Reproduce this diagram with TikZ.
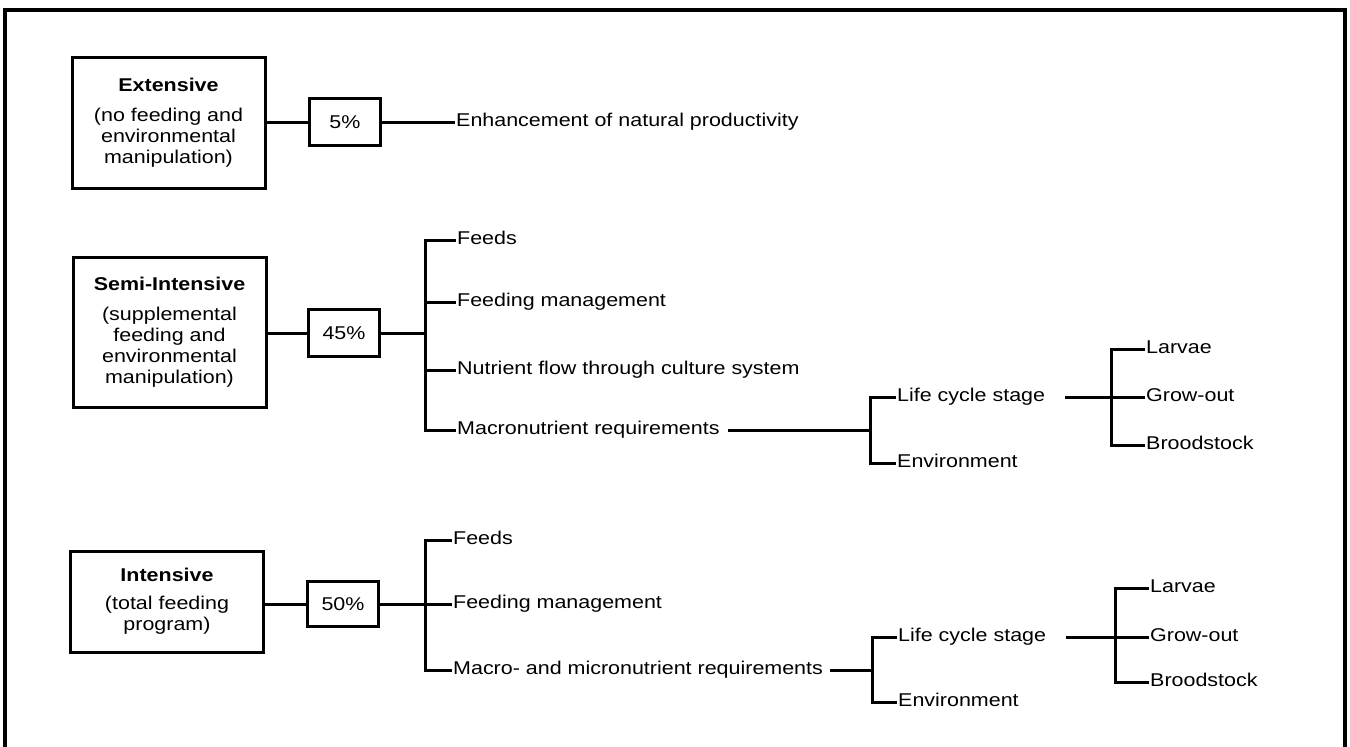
\documentclass[tikz,border=0pt]{standalone}
\usepackage{fontspec}
\setmainfont{Liberation Sans}[FakeStretch=1.16]
\begin{document}
\begin{tikzpicture}[x=1pt,y=-1pt,
  every node/.style={font=\fontsize{18.5}{21}\selectfont},
  catbox/.style={draw, line width=3pt, minimum width=193pt, align=center, inner sep=0pt},
  pctbox/.style={draw, line width=3pt, minimum width=71pt, minimum height=47pt, inner sep=0pt},
  lbl/.style={anchor=west, inner sep=1pt, text height=13pt, text depth=4pt},
  conn/.style={line width=3pt},
  frame/.style={line width=3.5pt}]
\useasboundingbox (0,0) rectangle (1350,747);
% outer frame
\coordinate (fbl) at (5,747);
\coordinate (ftl) at (5,10);
\coordinate (ftr) at (1345,10);
\coordinate (fbr) at (1345,747);
\draw[frame] (fbl) -- (ftl) -- (ftr) -- (fbr);

% ---------- Extensive ----------
\node[catbox, minimum height=131pt] (ext) at (168.5,122.5)
  {\textbf{Extensive}\\[9pt](no feeding and\\environmental\\manipulation)};
\node[pctbox] (p5) at (345,122) {5\%};
\node[lbl] (enh) at (455,122) {Enhancement of natural productivity};
\draw[conn] (p5.west -| ext.east) -- (p5.west);
\draw[conn] (p5.east) -- (enh.west);

% ---------- Semi-Intensive ----------
\node[catbox, minimum height=150pt] (semi) at (169.5,332)
  {\textbf{Semi-Intensive}\\[9pt](supplemental\\feeding and\\environmental\\manipulation)};
\node[pctbox] (p45) at (344,333) {45\%};
\coordinate (sb1) at (425,333);
\node[lbl] (sfeeds) at (456,240) {Feeds};
\node[lbl] (sfm) at (456,302) {Feeding management};
\node[lbl] (snf) at (456,370) {Nutrient flow through culture system};
\node[lbl] (smac) at (456,430) {Macronutrient requirements};
\draw[conn] (p45.west -| semi.east) -- (p45.west);
\draw[conn] (p45.east) -- (sb1);
\draw[conn] (sfeeds.west) -- (sfeeds.west -| sb1) -- (smac.west -| sb1) -- (smac.west);
\draw[conn] (sfm.west -| sb1) -- (sfm.west);
\draw[conn] (snf.west -| sb1) -- (snf.west);
% level 2
\coordinate (sb2) at (870,430);
\node[lbl] (slc) at (896,397) {Life cycle stage};
\node[lbl] (senv) at (896,463) {Environment};
\draw[conn] ([xshift=7pt]smac.east) -- (sb2);
\draw[conn] (slc.west) -- (slc.west -| sb2) -- (senv.west -| sb2) -- (senv.west);
% level 3
\coordinate (sb3) at (1111,397);
\node[lbl] (slar) at (1145,349) {Larvae};
\node[lbl] (sgro) at (1145,397) {Grow-out};
\node[lbl] (sbro) at (1145,445) {Broodstock};
\draw[conn] ([xshift=19pt]slc.east) -- (sb3);
\draw[conn] (slar.west) -- (slar.west -| sb3) -- (sbro.west -| sb3) -- (sbro.west);
\draw[conn] (sb3) -- (sgro.west);

% ---------- Intensive ----------
\node[catbox, minimum height=101pt] (int) at (167,601.5)
  {\textbf{Intensive}\\[7pt](total feeding\\program)};
\node[pctbox, minimum height=45pt] (p50) at (343,604) {50\%};
\coordinate (ib1) at (425,604);
\node[lbl] (ifeeds) at (452,540) {Feeds};
\node[lbl] (ifm) at (452,604) {Feeding management};
\node[lbl] (imac) at (452,670) {Macro- and micronutrient requirements};
\draw[conn] (p50.west -| int.east) -- (p50.west);
\draw[conn] (p50.east) -- (ib1);
\draw[conn] (ifeeds.west) -- (ifeeds.west -| ib1) -- (imac.west -| ib1) -- (imac.west);
\draw[conn] (ib1) -- (ifm.west);
% level 2
\coordinate (ib2) at (872,670);
\node[lbl] (ilc) at (897,637) {Life cycle stage};
\node[lbl] (ienv) at (897,702) {Environment};
\draw[conn] ([xshift=6pt]imac.east) -- (ib2);
\draw[conn] (ilc.west) -- (ilc.west -| ib2) -- (ienv.west -| ib2) -- (ienv.west);
% level 3
\coordinate (ib3) at (1115,637);
\node[lbl] (ilar) at (1149,588) {Larvae};
\node[lbl] (igro) at (1149,637) {Grow-out};
\node[lbl] (ibro) at (1149,682) {Broodstock};
\draw[conn] ([xshift=19pt]ilc.east) -- (ib3);
\draw[conn] (ilar.west) -- (ilar.west -| ib3) -- (ibro.west -| ib3) -- (ibro.west);
\draw[conn] (ib3) -- (igro.west);
\end{tikzpicture}
\end{document}
